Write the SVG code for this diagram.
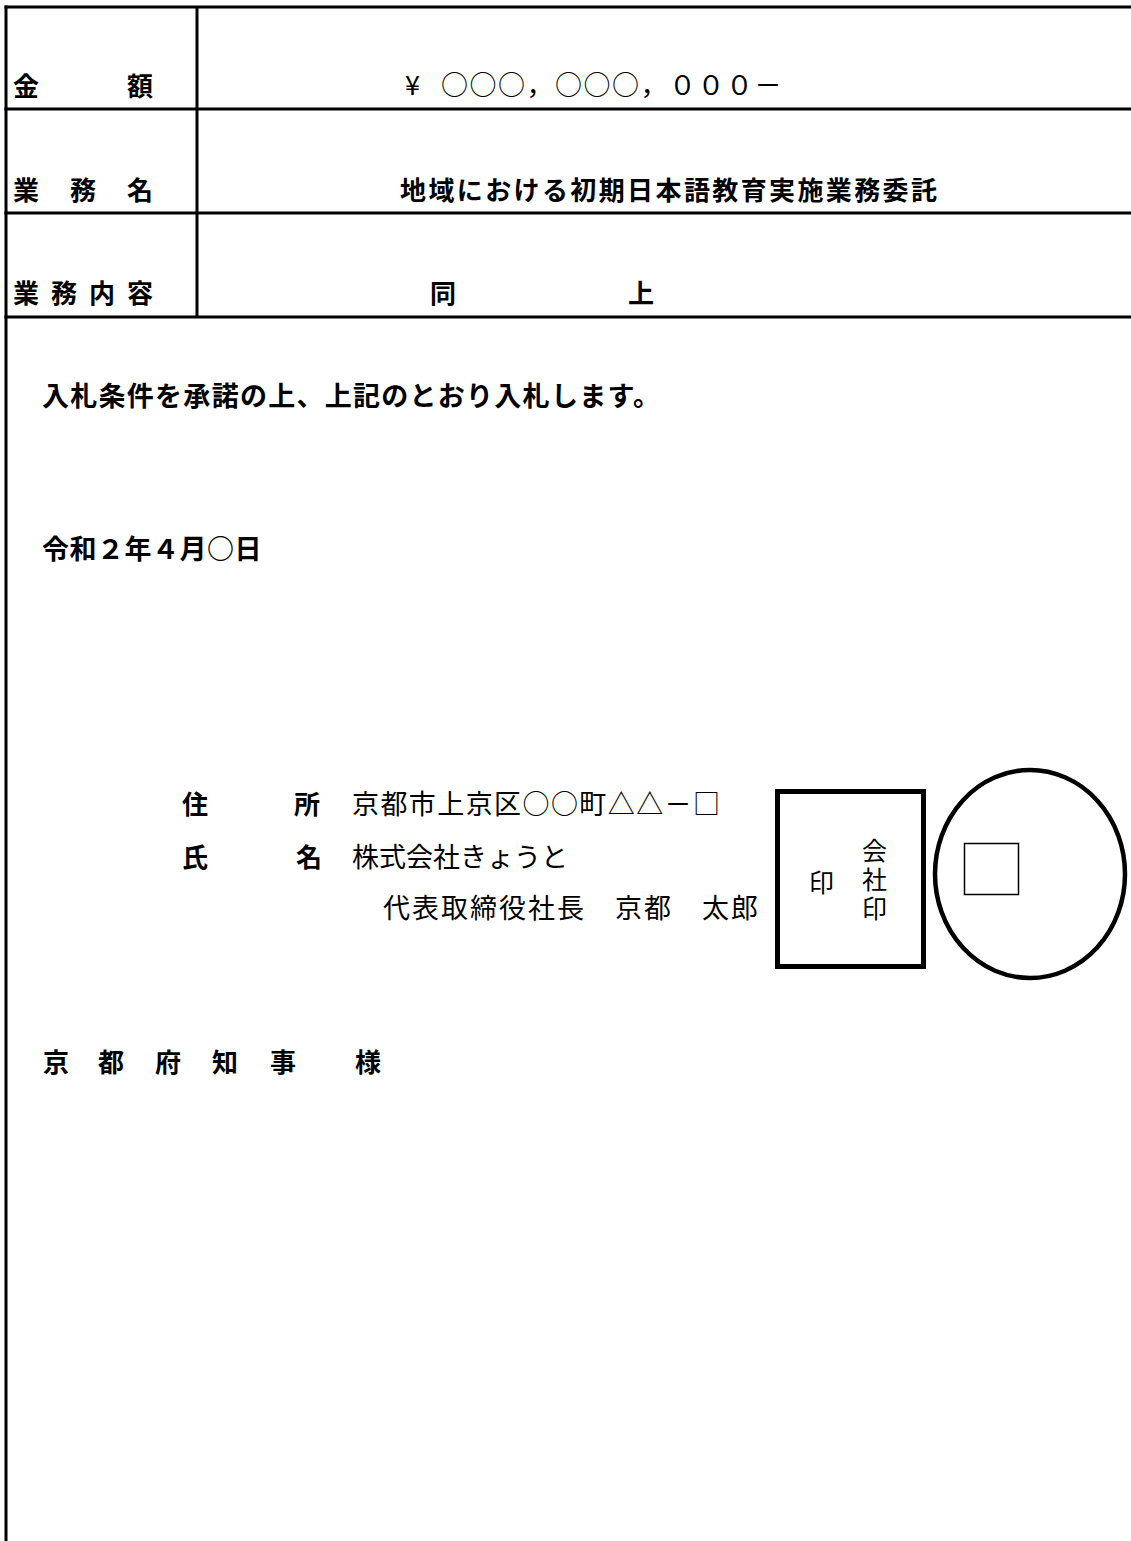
<svg xmlns="http://www.w3.org/2000/svg" width="1131" height="1541" viewBox="0 0 1131 1541">
<style>
.t{font-family:"Noto Sans CJK JP","Noto Sans CJK SC",sans-serif;fill:#000}
.b{font-weight:bold;font-size:26px}
.bb{font-weight:bold;font-size:27px}
.r{font-weight:normal;font-size:27px}
.a{font-weight:normal;font-size:27px}
.s{font-weight:normal;font-size:25px}
.ln{stroke:#000;stroke-width:3;fill:none}
</style>
<rect width="1131" height="1541" fill="#fff"/>
<g id="connectors">
<line class="ln" x1="4.5" y1="7" x2="1131" y2="7"/>
<line class="ln" x1="6" y1="5.5" x2="6" y2="1541"/>
<line class="ln" x1="197" y1="7" x2="197" y2="317"/>
<line class="ln" x1="4.5" y1="109" x2="1131" y2="109"/>
<line class="ln" x1="4.5" y1="213" x2="1131" y2="213"/>
<line class="ln" x1="4.5" y1="317" x2="1131" y2="317"/>
</g>
<g id="row-amount">
<text class="t b" x="13" y="96">金</text>
<text class="t b" x="127" y="96">額</text>
<text class="t r" x="405 441 469.5 498 526.5 555 583.5 612 640.5 669 697.5 726 754.5" y="95">¥○○○，○○○，０００－</text>
</g>
<g id="row-name">
<text class="t b" x="13 70 127" y="200">業務名</text>
<text class="t b" x="400" y="200" textLength="537" lengthAdjust="spacing">地域における初期日本語教育実施業務委託</text>
</g>
<g id="row-content">
<text class="t b" x="13 51 89 127" y="303">業務内容</text>
<text class="t b" x="430" y="303">同</text>
<text class="t b" x="628" y="303">上</text>
</g>
<g id="statement">
<text class="t bb" x="42" y="406" textLength="618" lengthAdjust="spacing">入札条件を承諾の上、上記のとおり入札します。</text>
</g>
<g id="date">
<text class="t bb" x="42 69.5 97 124.5 152 179.5 207 234.5" y="559">令和２年４月○日</text>
</g>
<g id="bidder">
<text class="t b" x="182" y="814">住</text>
<text class="t b" x="294" y="814">所</text>
<text class="t a" x="352" y="814" textLength="368" lengthAdjust="spacing">京都市上京区○○町△△－□</text>
<text class="t b" x="182" y="867">氏</text>
<text class="t b" x="296" y="867">名</text>
<text class="t a" x="352" y="867">株式会社きょうと</text>
<text class="t a" x="383" y="918" textLength="375" lengthAdjust="spacing">代表取締役社長　京都　太郎</text>
</g>
<g id="company-seal">
<rect x="777.5" y="791.5" width="146" height="175" fill="none" stroke="#000" stroke-width="5"/>
<text class="t s" x="809" y="892">印</text>
<text class="t s" x="862 862 862" y="860 889 918">会社印</text>
</g>
<g id="personal-seal">
<ellipse cx="1030" cy="874" rx="95" ry="104" fill="none" stroke="#000" stroke-width="4.5"/>
<rect x="964.5" y="843.5" width="54" height="51" fill="none" stroke="#000" stroke-width="1.5"/>
</g>
<g id="addressee">
<text class="t b" x="43 98 155 212 270 355" y="1072">京都府知事様</text>
</g>
</svg>
